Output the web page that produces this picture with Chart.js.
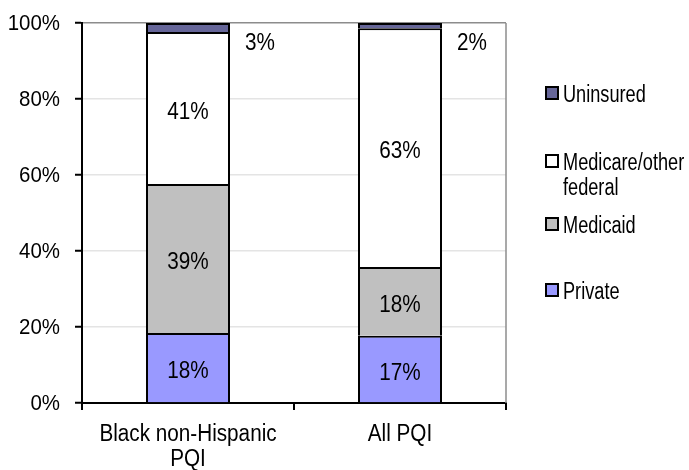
<!DOCTYPE html>
<html>
<head>
<meta charset="utf-8">
<script src="https://cdn.jsdelivr.net/npm/chart.js@4.4.1/dist/chart.umd.min.js"></script>
<style>
  html, body { margin: 0; padding: 0; background: #fff; }
  #wrap { width: 689px; height: 470px; position: relative; }
</style>
</head>
<body>
<div id="wrap"><canvas id="c" width="689" height="470"></canvas></div>
<script>
// ---- data ----
const categories = [["Black non-Hispanic", "PQI"], ["All PQI"]];
const seriesNames = ["Private", "Medicaid", "Medicare/other federal", "Uninsured"];
const privateVals   = [18.4, 17.7];
const medicaidVals  = [39.2, 18.1];
const medicareVals  = [40.0, 62.8];
const uninsuredVals = [2.4, 1.4];
const privateLabels   = ["18%", "17%"];
const medicaidLabels  = ["39%", "18%"];
const medicareLabels  = ["41%", "63%"];
const uninsuredLabels = ["3%", "2%"];
const yTicks = [0, 20, 40, 60, 80, 100];
const legendLines = [["Uninsured"], ["Medicare/other", "federal"], ["Medicaid"], ["Private"]];

const FONT = "'Liberation Sans', Arial, sans-serif";
Chart.defaults.font.family = FONT;
Chart.defaults.color = '#000';

const colors = ['#9999ff', '#c0c0c0', '#ffffff', '#666699'];
const labelSets = [privateLabels, medicaidLabels, medicareLabels, uninsuredLabels];

// draw text with its cap-centre at y, horizontally condensed by sx
function txt(ctx, s, x, y, size, sx, align) {
  ctx.save();
  ctx.font = size + 'px ' + FONT;
  ctx.textAlign = align;
  ctx.textBaseline = 'alphabetic';
  ctx.translate(x, y + size * 0.358);
  ctx.scale(sx, 1);
  ctx.fillText(s, 0, 0);
  ctx.restore();
}

const labelPlugin = {
  id: 'labels',
  beforeDatasetsDraw(chart) {
    const ctx = chart.ctx, a = chart.chartArea;
    ctx.save();
    ctx.strokeStyle = '#8c8c8c';
    ctx.lineWidth = 1.5;
    ctx.beginPath();
    ctx.moveTo(a.right, a.top);
    ctx.lineTo(a.right, a.bottom);
    ctx.stroke();
    ctx.restore();
  },
  afterDatasetsDraw(chart) {
    const ctx = chart.ctx;
    ctx.save();
    ctx.fillStyle = '#000';
    // y tick labels
    const ys = chart.scales.y;
    yTicks.forEach(v => txt(ctx, v + '%', 60, ys.getPixelForValue(v) - 1, 22, 0.93, 'right'));
    // x tick labels
    const xs = chart.scales.x;
    categories.forEach((lines, i) => {
      const x = xs.getPixelForTick(i);
      lines.forEach((l, k) => txt(ctx, l, x, 433 + k * 25, 23, 0.9, 'center'));
    });
    // value labels
    for (let d = 0; d < 4; d++) {
      const meta = chart.getDatasetMeta(d);
      meta.data.forEach((bar, j) => {
        const s = labelSets[d][j];
        if (d === 3) {
          txt(ctx, s, bar.x + bar.width / 2 + 15, 42, 23, 0.9, 'left');
        } else {
          txt(ctx, s, bar.x, (bar.y + bar.base) / 2 + 2.5, 23, 0.9, 'center');
        }
      });
    }
    // legend
    const legendY = [93, 161, 224, 290];
    const order = [3, 2, 1, 0];
    order.forEach((ds, k) => {
      const y = legendY[k];
      ctx.fillStyle = colors[ds];
      ctx.fillRect(546, y - 6, 12, 12);
      ctx.strokeStyle = '#000';
      ctx.lineWidth = 2;
      ctx.strokeRect(546, y - 6, 12, 12);
      ctx.fillStyle = '#000';
      legendLines[k].forEach((l, m) => txt(ctx, l, 563, y + 0.5 + m * 25, 23, 0.79, 'left'));
    });
    ctx.restore();
  }
};

const datasetVals = [privateVals, medicaidVals, medicareVals, uninsuredVals];

new Chart(document.getElementById('c'), {
  type: 'bar',
  data: {
    labels: categories,
    datasets: datasetVals.map((v, i) => ({
      label: seriesNames[i],
      data: v,
      backgroundColor: colors[i],
      borderColor: '#000',
      borderWidth: { top: 2, bottom: 0, left: 2, right: 2 },
      borderSkipped: false,
      inflateAmount: 0,
      categoryPercentage: 1.0,
      barPercentage: 84 / 212
    }))
  },
  options: {
    responsive: false,
    animation: false,
    layout: { padding: { left: 0, top: 23, right: 183, bottom: 0 } },
    plugins: { legend: { display: false }, tooltip: { enabled: false } },
    scales: {
      x: {
        stacked: true,
        afterFit(s) { s.height = 67; },
        grid: { display: true, drawOnChartArea: false, offset: true, tickLength: 7, color: '#000', lineWidth: 2 },
        border: { display: true, color: '#000', width: 2 },
        ticks: { display: false }
      },
      y: {
        stacked: true,
        min: 0, max: 100,
        afterFit(s) { s.width = 82; },
        afterBuildTicks(s) { s.ticks = yTicks.map(v => ({ value: v })); },
        grid: {
          color: ctx => (ctx.tick && ctx.tick.value === 100) ? '#8c8c8c' : '#e4e4e4',
          lineWidth: 1.5,
          tickColor: '#000', tickLength: 7, tickWidth: 2
        },
        border: { display: true, color: '#000', width: 2 },
        ticks: { display: false }
      }
    }
  },
  plugins: [labelPlugin]
});
</script>
</body>
</html>
